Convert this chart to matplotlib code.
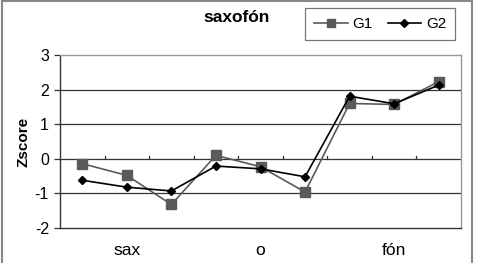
import matplotlib
matplotlib.use("Agg")
from matplotlib import pyplot as plt
from matplotlib.patches import Rectangle

categories = ["", "sax", "", "", "o", "", "", "fón", ""]
g1 = [-0.14, -0.48, -1.32, 0.10, -0.23, -0.96, 1.60, 1.57, 2.23]
g2 = [-0.62, -0.82, -0.93, -0.21, -0.29, -0.52, 1.81, 1.59, 2.13]
yticks = [-2, -1, 0, 1, 2, 3]

plt.rcParams['font.family'] = ['Liberation Sans', 'DejaVu Sans']

fig = plt.figure(figsize=(4.81, 2.63), dpi=100)
ax = fig.add_axes([60 / 481, 1 - 228 / 263, 401 / 481, 173 / 263])

x = list(range(len(categories)))
ax.plot(x, g1, color='#5a5a5a', marker='s', markersize=7, linewidth=1.2, label='G1')
ax.plot(x, g2, color='black', marker='D', markersize=4.5, linewidth=1.2, label='G2')

ax.set_xlim(-0.5, len(categories) - 0.5)
ax.set_ylim(-2, 3)
ax.set_yticks(yticks)
ax.set_yticklabels([str(t) for t in yticks], fontsize=11.5)
for t in [-1, 1, 2]:
    ax.axhline(t, color='#333333', linewidth=0.9, zorder=0)

# zero axis line with category boundary ticks
ax.axhline(0, color='#333333', linewidth=0.9, zorder=0)
for b in range(1, len(categories)):
    ax.plot([b - 0.5, b - 0.5], [0, 0.08], color='#333333', linewidth=0.9, zorder=0)

ax.set_xticks(x)
ax.set_xticklabels(categories, fontsize=12.5)
ax.tick_params(axis='x', length=0, pad=11)
ax.tick_params(axis='y', length=4, width=0.9, color='#333333', pad=4)

ax.spines['left'].set_color('#333333')
ax.spines['bottom'].set_color('#333333')
ax.spines['top'].set_color('#999999')
ax.spines['right'].set_color('#999999')
for s in ax.spines.values():
    s.set_linewidth(1.0)

ax.set_ylabel('Zscore', fontsize=11, fontweight='bold', labelpad=3)

fig.text(237 / 481, 1 - 18 / 263, 'saxofón', fontsize=12.5, fontweight='bold',
         ha='center', va='center')

leg = fig.legend(loc='center', bbox_to_anchor=(380 / 481, 1 - 24 / 263), ncol=2,
                 fontsize=11, frameon=True, fancybox=False, handlelength=2.2,
                 columnspacing=1.0, handletextpad=0.3, borderpad=0.6,
                 markerscale=0.85)
leg.get_frame().set_edgecolor('#555555')
leg.get_frame().set_linewidth(0.9)

# outer chart frame
fig.patches.append(Rectangle((2 / 481, -0.02), 470 / 481, 1 - 1 / 263 + 0.02,
                             transform=fig.transFigure, fill=False,
                             edgecolor='#888888', linewidth=1.5))

fig.savefig('out.png', dpi=100)
